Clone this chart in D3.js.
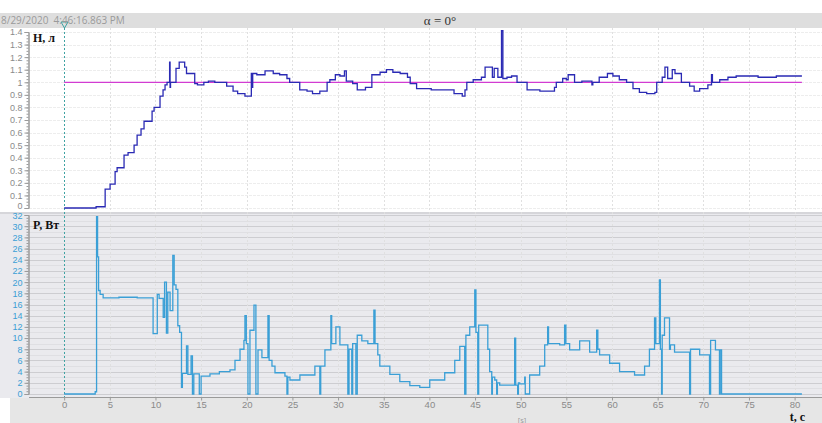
<!DOCTYPE html>
<html>
<head>
<meta charset="utf-8">
<script src="https://cdn.jsdelivr.net/npm/d3@7"></script>
<style>
	body { margin: 0; background: #fff; }
	svg { display: block; }
</style>
</head>
<body>
<svg class="svgWrapper" width="822" height="423"></svg>
<script>

// level H (top panel): [t, value] steps
const levelT = [0, 3.5, 4.49, 5.03, 5.58, 5.8, 6.56, 7.0, 7.66, 7.99, 8.42, 8.75, 9.63, 9.85, 10.5, 10.83, 11.05, 11.27, 11.55, 11.6, 11.65, 11.82, 12.25, 12.6, 13.2, 13.4, 14.3, 14.6, 15.3, 15.8, 16.5, 17.8, 18.5, 19.0, 19.8, 20.5, 20.6, 20.65, 21.1, 22.0, 22.9, 23.6, 24.4, 24.7, 25.5, 25.8, 26.6, 27.2, 28.0, 28.8, 29.1, 29.7, 30.2, 30.7, 30.9, 31.6, 32.1, 33.0, 33.7, 34.6, 35.3, 36.0, 36.8, 37.6, 37.9, 38.6, 40.2, 42.7, 43.6, 43.9, 44.1, 44.8, 45.7, 46.1, 46.9, 47.1, 47.5, 47.9, 48.05, 48.5, 49.0, 49.6, 50.7, 52.1, 53.2, 53.7, 53.9, 54.6, 55.0, 55.2, 55.7, 55.9, 56.7, 57.8, 57.9, 58.6, 59.5, 60.1, 60.8, 61.6, 62.3, 63.0, 63.8, 64.7, 64.9, 65.5, 65.8, 66.1, 66.6, 66.9, 67.6, 68.5, 69.0, 69.6, 70.5, 70.9, 71.0, 71.8, 72.7, 73.6, 76.0, 78.0, 80.8];
const levelH = [0, 0.01, 0.15, 0.19, 0.29, 0.32, 0.42, 0.44, 0.5, 0.58, 0.63, 0.69, 0.77, 0.8, 0.89, 0.94, 0.98, 1.0, 1.16, 0.96, 1.0, 1.0, 1.11, 1.16, 1.12, 1.07, 0.99, 0.98, 1.0, 1.01, 1.0, 0.97, 0.93, 0.91, 0.89, 1.07, 0.96, 1.07, 1.06, 1.09, 1.07, 1.06, 1.03, 1.0, 1.0, 0.94, 0.93, 0.91, 0.93, 1.0, 1.02, 1.06, 1.05, 1.09, 1.01, 0.99, 0.94, 0.96, 1.06, 1.08, 1.1, 1.08, 1.07, 1.04, 0.99, 0.95, 0.94, 0.91, 0.89, 0.94, 1.0, 1.02, 1.04, 1.12, 1.04, 1.11, 1.04, 1.41, 1.03, 1.04, 1.05, 1.0, 0.94, 0.93, 0.93, 0.96, 1.0, 1.03, 1.02, 1.06, 1.06, 1.0, 1.01, 0.98, 1.0, 1.04, 1.07, 1.05, 1.02, 1.0, 0.95, 0.92, 0.91, 0.92, 1.0, 1.04, 1.12, 1.03, 1.1, 1.07, 1.0, 0.97, 0.93, 0.95, 0.98, 1.06, 1.0, 1.02, 1.04, 1.05, 1.04, 1.05, 1.05];

// power P (bottom panel)
const powerT = [0, 3.4, 3.55, 3.66, 3.77, 3.94, 4.27, 6.0, 8.0, 9.74, 10.2, 10.4, 10.85, 11.0, 11.2, 11.35, 11.6, 11.9, 12.05, 12.25, 12.45, 12.65, 12.85, 12.95, 13.4, 13.55, 13.9, 14.05, 14.2, 14.8, 15.0, 15.97, 17.0, 18.16, 18.71, 19.26, 19.69, 19.8, 19.95, 20.13, 20.35, 20.79, 21.0, 21.23, 21.66, 22.32, 22.45, 22.76, 23.09, 24.18, 24.4, 24.5, 24.73, 25.82, 27.46, 28.0, 28.1, 28.56, 29.21, 29.3, 29.76, 30.2, 31.07, 31.2, 31.5, 31.6, 31.95, 32.1, 32.6, 33.26, 33.92, 34.05, 34.35, 34.57, 35.67, 36.76, 37.86, 38.95, 40.04, 41.68, 42.78, 43.33, 43.87, 44.0, 44.42, 44.97, 45.1, 45.3, 45.4, 45.51, 46.4, 46.6, 46.83, 46.9, 47.16, 47.37, 47.45, 47.7, 48.8, 49.34, 49.45, 49.67, 49.75, 49.89, 50.44, 50.5, 50.98, 52.08, 52.63, 52.95, 53.05, 54.27, 54.81, 54.95, 55.36, 56.46, 57.55, 58.32, 58.45, 58.64, 59.74, 60.83, 62.47, 63.57, 64.1, 64.66, 64.8, 65.2, 65.3, 65.43, 65.5, 65.75, 66.3, 66.4, 66.85, 68.5, 68.6, 69.6, 70.68, 70.8, 71.33, 71.77, 71.85, 72.0, 72.32, 80.8];
const powerP = [0, 0.4, 31.7, 24.5, 18.5, 17.8, 17.2, 17.3, 17.2, 10.8, 17.8, 17.1, 13.7, 20, 10.9, 18.2, 14.9, 24.8, 19.5, 18.7, 12.2, 11, 1.2, 3.7, 8.6, 3.5, 6.8, 0, 3.6, 0, 3.2, 3.6, 4.0, 4.3, 6, 8, 9.6, 14, 9, 0, 11.4, 15.9, 0, 7.9, 6.5, 14, 6, 5, 3.8, 3.2, 0, 3, 2.5, 3.4, 5, 0, 5, 7.9, 14, 9, 12, 8.8, 0, 8, 0, 9, 0, 10.5, 9.5, 9, 15, 9, 7, 5, 3.5, 2.2, 1.5, 1.2, 2.5, 3.8, 6, 8.5, 0, 10.5, 12, 18.6, 11, 0, 12.3, 12.3, 8, 4, 0, 3, 2.5, 0, 2, 1.6, 1.6, 10, 1.6, 0, 2, 1.8, 3, 0, 3.4, 5, 8.8, 12, 9, 8.8, 12.3, 9, 7.9, 9.5, 7.5, 11.4, 8, 7, 5.5, 4, 3.4, 5, 8, 13.6, 9, 20.4, 8, 0, 10.5, 13.6, 8, 8.8, 7.5, 0, 8, 7, 0, 9.6, 7.9, 0, 7.9, 0, 0];

const hTicks = d3.range(0, 1.41, 0.1);
const pTicks = d3.range(0, 33, 2);
const tTicks = d3.range(0, 81, 5);
const setPoint = 1.0;

const svgObj = d3.select('.svgWrapper');
const W = 822;
const tickFont = 'Liberation Sans, Arial, sans-serif';

const xScale = d3.scaleLinear().domain([-3.85, 83]).range([29, 822]);
const yTop = d3.scaleLinear().domain([0, 1.4]).range([208, 32]);
const yBot = d3.scaleLinear().domain([0, 32]).range([394, 215]);

// backgrounds
svgObj.append('rect').attr('x', 0).attr('y', 13).attr('width', W).attr('height', 15).attr('fill', '#dedede');
svgObj.append('rect').attr('x', 0).attr('y', 28).attr('width', W).attr('height', 185).attr('fill', '#ffffff');
svgObj.append('rect').attr('x', 0).attr('y', 213).attr('width', W).attr('height', 185).attr('fill', '#eaeaee');
svgObj.append('rect').attr('x', 10).attr('y', 398).attr('width', W - 10).attr('height', 25).attr('fill', '#e6e6e6');
svgObj.append('rect').attr('x', 0).attr('y', 212).attr('width', W).attr('height', 2).attr('fill', '#d6d6da');

// grid
const gridG = svgObj.append('g');
gridG.selectAll('.hgTop').data(hTicks).join('line')
	.attr('x1', 29).attr('x2', W)
	.attr('y1', d => Math.round(yTop(d)) + 0.5).attr('y2', d => Math.round(yTop(d)) + 0.5)
	.attr('stroke', '#ededed').attr('stroke-dasharray', '3,1');
gridG.selectAll('.hgBot').data(d3.range(0, 33, 1)).join('line')
	.attr('x1', 29).attr('x2', W)
	.attr('y1', d => Math.round(yBot(d)) + 0.5).attr('y2', d => Math.round(yBot(d)) + 0.5)
	.attr('stroke', d => d % 2 ? '#dfdfe3' : '#cdcdd1');
gridG.selectAll('.vg').data(tTicks).join('line')
	.attr('x1', d => Math.round(xScale(d)) + 0.5).attr('x2', d => Math.round(xScale(d)) + 0.5)
	.attr('y1', 28).attr('y2', 398)
	.attr('stroke', '#e0e0e0').attr('stroke-dasharray', '2,2');

// start marker
const x0 = Math.round(xScale(0)) + 0.5;
svgObj.append('line').attr('x1', x0).attr('x2', x0).attr('y1', 28).attr('y2', 398)
	.attr('stroke', '#3fa3a3').attr('stroke-dasharray', '2,2');
svgObj.append('path').attr('d', `M${x0 - 3.5},22 L${x0 + 3.5},22 L${x0},28 Z`)
	.attr('fill', 'none').attr('stroke', '#3fa3a3');

// set point line
svgObj.append('line')
	.attr('x1', xScale(0)).attr('x2', xScale(80.8))
	.attr('y1', yTop(setPoint)).attr('y2', yTop(setPoint))
	.attr('stroke', '#d23cd2').attr('stroke-width', 1.2);

// series
const levelData = levelT.map((t, i) => [t, levelH[i]]);
const powerData = powerT.map((t, i) => [t, powerP[i]]);

svgObj.append('path').datum(levelData)
	.attr('d', d3.line().x(d => xScale(d[0])).y(d => yTop(d[1])).curve(d3.curveStepAfter))
	.attr('fill', 'none').attr('stroke', '#2a2ab4').attr('stroke-width', 1.3);

svgObj.append('path').datum(powerData)
	.attr('d', d3.line().x(d => xScale(d[0])).y(d => yBot(d[1])).curve(d3.curveStepAfter))
	.attr('fill', 'none').attr('stroke', '#3a9fd6').attr('stroke-width', 1.3);

// axes
const fmt = d => String(+d.toFixed(1));
const topAxis = svgObj.append('g').attr('transform', 'translate(28.5,0)')
	.call(d3.axisLeft(yTop).tickValues(hTicks).tickFormat(fmt).tickSize(4).tickPadding(2));
const topMinor = svgObj.append('g').attr('transform', 'translate(28.5,0)')
	.call(d3.axisLeft(yTop).tickValues(d3.range(0, 1.41, 0.025)).tickSize(2));

const botAxis = svgObj.append('g').attr('transform', 'translate(28.5,0)')
	.call(d3.axisLeft(yBot).tickValues(pTicks).tickFormat(d3.format('d')).tickSize(4).tickPadding(2));
const botMinor = svgObj.append('g').attr('transform', 'translate(28.5,0)')
	.call(d3.axisLeft(yBot).tickValues(d3.range(0, 32.1, 0.5)).tickSize(2));

const xAxis = svgObj.append('g').attr('transform', 'translate(0,397.5)')
	.call(d3.axisBottom(xScale).tickValues(tTicks).tickFormat(d3.format('d')).tickSize(3).tickPadding(1));

// minor ticks carry no labels
topMinor.selectAll('text').remove();
botMinor.selectAll('text').remove();

[topAxis, topMinor, botAxis, botMinor, xAxis].forEach(g => {
	g.selectAll('path, line').attr('stroke', '#9a9a9a');
	g.selectAll('text').attr('font-family', tickFont).attr('font-size', 9.5);
});
topAxis.selectAll('text').attr('font-size', 9).attr('fill', '#8a8a8a');
botAxis.selectAll('text').attr('font-size', 9).attr('fill', '#3a9fd6');
xAxis.selectAll('text').attr('fill', '#8a8a8a');
xAxis.select('.domain').attr('d', `M29,0H${W}`);
// the stacked 0 / 32 labels sit tight at the panel joint
topAxis.selectAll('.tick').filter(d => d === 0).select('text').attr('dy', '0.08em');
botAxis.selectAll('.tick').filter(d => d === 32).select('text').attr('dy', '0.42em');

// texts
svgObj.append('text').attr('x', 1).attr('y', 24)
	.attr('font-family', 'Open Sans, sans-serif').attr('font-size', 10).attr('fill', '#9a9a9a')
	.attr('xml:space', 'preserve').text('8/29/2020  4:46:16.863 PM');
svgObj.append('text').attr('x', 440).attr('y', 25).attr('text-anchor', 'middle')
	.attr('font-family', 'Liberation Serif, serif').attr('font-size', 13).attr('fill', '#333')
	.text('α = 0°');
svgObj.append('text').attr('x', 33).attr('y', 42)
	.attr('font-family', 'Liberation Serif, serif').attr('font-size', 12).attr('font-weight', 'bold').attr('fill', '#111')
	.text('H, л');
svgObj.append('text').attr('x', 33).attr('y', 229)
	.attr('font-family', 'Liberation Serif, serif').attr('font-size', 12).attr('font-weight', 'bold').attr('fill', '#111')
	.text('P, Вт');
svgObj.append('text').attr('x', 805).attr('y', 421).attr('text-anchor', 'end')
	.attr('font-family', 'Liberation Serif, serif').attr('font-size', 12).attr('font-weight', 'bold').attr('fill', '#111')
	.text('t, c');
svgObj.append('text').attr('x', 522).attr('y', 422.5).attr('text-anchor', 'middle')
	.attr('font-family', 'Open Sans, sans-serif').attr('font-size', 7.5).attr('fill', '#9a9a9a')
	.text('[s]');

</script>
</body>
</html>
